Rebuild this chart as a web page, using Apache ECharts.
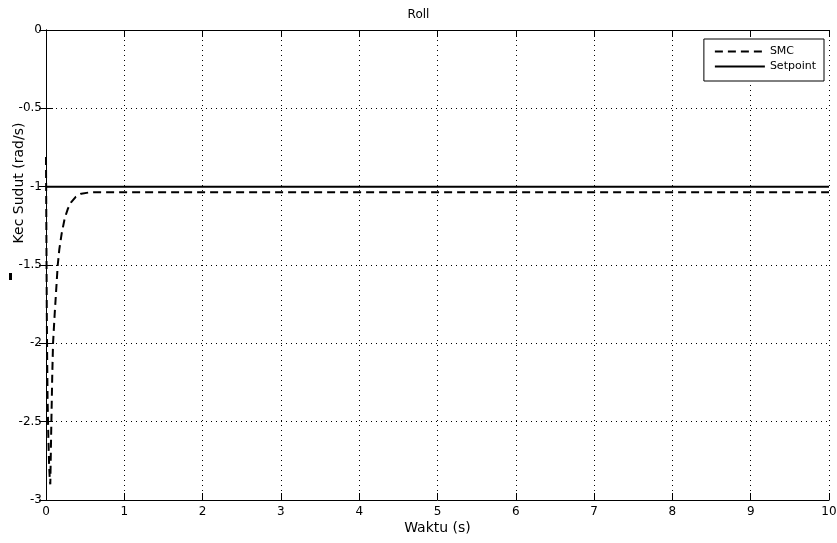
<!DOCTYPE html>
<html>
<head>
<meta charset="utf-8">
<script src="https://cdn.jsdelivr.net/npm/echarts@6/dist/echarts.min.js"></script>
<style>
  html, body { margin: 0; padding: 0; background: #fff; }
  #chart { width: 837px; height: 543px; }
</style>
</head>
<body>
<div id="chart"></div>
<script>
// waktu (s) dan respon SMC
const smcTime = [0, 0.005, 0.01, 0.015, 0.02, 0.03, 0.04, 0.05, 0.055, 0.065, 0.08, 0.09, 0.11, 0.13, 0.15, 0.17, 0.2, 0.24, 0.28, 0.32, 0.38, 0.45, 0.55, 0.7, 1, 10];
const smcValue = [-0.81, -1.3, -1.8, -2.1, -2.35, -2.6, -2.78, -2.88, -2.9, -2.6, -2.2, -2.0, -1.82, -1.66, -1.5, -1.4, -1.3, -1.2, -1.14, -1.1, -1.065, -1.045, -1.037, -1.035, -1.035, -1.035];
const setpointTime = [0, 10];
const setpointValue = [-1, -1];

const font = 'DejaVu Sans, Liberation Sans, sans-serif';
const chart = echarts.init(document.getElementById('chart'));

// sumbu atas/kanan cuma untuk kotak + tick ke dalam
const boxAxis = {
  min: 0, max: 10, interval: 1,
  axisLine: { show: true, lineStyle: { color: '#000', width: 1 } },
  axisTick: { show: true, inside: true, length: 7, lineStyle: { color: '#000' } },
  axisLabel: { show: false },
  splitLine: { show: false }
};

chart.setOption({
  animation: false,
  backgroundColor: '#fff',
  title: {
    text: 'Roll',
    left: 'center',
    top: 4,
    textStyle: { fontFamily: font, fontSize: 12, fontWeight: 'normal', color: '#000' }
  },
  legend: {
    orient: 'vertical',
    right: 13,
    top: 39,
    padding: [7, 8, 9, 10],
    itemGap: 4,
    itemWidth: 50,
    itemHeight: 12,
    backgroundColor: '#fff',
    borderColor: '#000',
    borderWidth: 1,
    borderRadius: 0,
    itemStyle: { opacity: 0 },
    textStyle: { fontFamily: font, fontSize: 11, color: '#000' },
    data: ['SMC', 'Setpoint']
  },
  grid: { left: 46, right: 8, top: 30, bottom: 43, containLabel: false, outerBoundsMode: 'none' },
  xAxis: [
    {
      type: 'value',
      min: 0, max: 10, interval: 1,
      name: 'Waktu (s)',
      nameLocation: 'middle',
      nameGap: 21,
      nameMoveOverlap: false,
      nameTextStyle: { fontFamily: font, fontSize: 14, color: '#000' },
      axisLine: { show: true, onZero: false, lineStyle: { color: '#000', width: 1 } },
      axisTick: { show: true, inside: true, length: 7, lineStyle: { color: '#000' } },
      axisLabel: { fontFamily: font, fontSize: 12, color: '#000', margin: 6 },
      splitLine: { show: true, lineStyle: { color: '#000', type: [1, 4], width: 1 } }
    },
    Object.assign({ type: 'value', position: 'top' }, boxAxis)
  ],
  yAxis: [
    {
      type: 'value',
      min: -3, max: 0, interval: 0.5,
      axisLine: { show: true, onZero: false, lineStyle: { color: '#000', width: 1 } },
      axisTick: { show: true, inside: true, length: 7, lineStyle: { color: '#000' } },
      axisLabel: { fontFamily: font, fontSize: 12, color: '#000', margin: 4 },
      splitLine: { show: true, lineStyle: { color: '#000', type: [1, 4], width: 1 } }
    },
    Object.assign({ type: 'value', position: 'right' }, boxAxis, { min: -3, max: 0, interval: 0.5 })
  ],
  graphic: [
    {
      type: 'text',
      x: 19, y: 183,
      rotation: Math.PI / 2,
      style: {
        text: 'Kec Sudut (rad/s)',
        fontFamily: font, fontSize: 14, fill: '#000',
        align: 'center', verticalAlign: 'middle'
      }
    },
    { type: 'rect', shape: { x: 9, y: 273, width: 3, height: 7 }, style: { fill: '#000' } }
  ],
  series: [
    {
      name: 'SMC',
      type: 'line',
      symbol: 'none',
      data: smcTime.map((t, i) => [t, smcValue[i]]),
      lineStyle: { color: '#000', width: 2, type: [8, 5] },
      itemStyle: { color: '#000' },
      z: 3
    },
    {
      name: 'Setpoint',
      type: 'line',
      symbol: 'none',
      data: setpointTime.map((t, i) => [t, setpointValue[i]]),
      lineStyle: { color: '#000', width: 2 },
      itemStyle: { color: '#000' },
      z: 2
    }
  ]
});
</script>
</body>
</html>
